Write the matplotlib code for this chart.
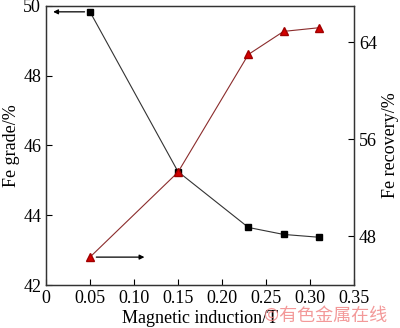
import matplotlib.pyplot as plt
import numpy as np

plt.rcParams['font.family'] = ['Liberation Serif', 'DejaVu Serif']

induction = [0.05, 0.15, 0.23, 0.27, 0.31]
fe_grade = [49.83, 45.25, 43.65, 43.45, 43.37]
fe_recovery = [46.3, 53.3, 63.0, 64.9, 65.2]

fig = plt.figure(figsize=(4.0, 3.28), dpi=100)
ax = fig.add_axes([0.115, 0.131, 0.77, 0.851])
ax2 = ax.twinx()

ax.plot(induction, fe_grade, color='#333333', lw=0.8, marker='s', ms=4.5,
        mfc='black', mec='black')
ax2.plot(induction, fe_recovery, color='#8b2c2c', lw=0.8, marker='^', ms=6,
         mfc='#d40000', mec='#a00000')

ax.set_xlim(0, 0.35)
ax.set_ylim(42, 50)
ax2.set_ylim(44, 67)
ax.set_xticks(np.arange(0, 0.351, 0.05))
ax.set_xticklabels(['0', '0.05', '0.10', '0.15', '0.20', '0.25', '0.30', '0.35'])
ax.set_yticks([42, 44, 46, 48, 50])
ax2.set_yticks([48, 56, 64])

for a in (ax, ax2):
    a.tick_params(direction='in', labelsize=13, length=4, width=0.8)
    for s in a.spines.values():
        s.set_linewidth(0.9)
        s.set_color('#333333')

ax.set_xlabel('Magnetic induction/T', fontsize=13, labelpad=2)
ax.set_ylabel('Fe grade/%', fontsize=13, labelpad=2)
ax2.set_ylabel('Fe recovery/%', fontsize=13, labelpad=4)

# direction arrows
ax.annotate('', xy=(0.005, fe_grade[0]), xytext=(0.047, fe_grade[0]),
            arrowprops=dict(arrowstyle='-|>', color='black', lw=0.9,
                            mutation_scale=7))
ax2.annotate('', xy=(0.115, fe_recovery[0]), xytext=(0.054, fe_recovery[0]),
             arrowprops=dict(arrowstyle='-|>', color='black', lw=0.9,
                             mutation_scale=7))

fig.text(0.66, 0.02, '©有色金属在线', fontsize=13, color='#f08080', alpha=0.8,
         family=['Noto Sans CJK SC', 'DejaVu Sans'])

fig.savefig('out.png', dpi=100)
